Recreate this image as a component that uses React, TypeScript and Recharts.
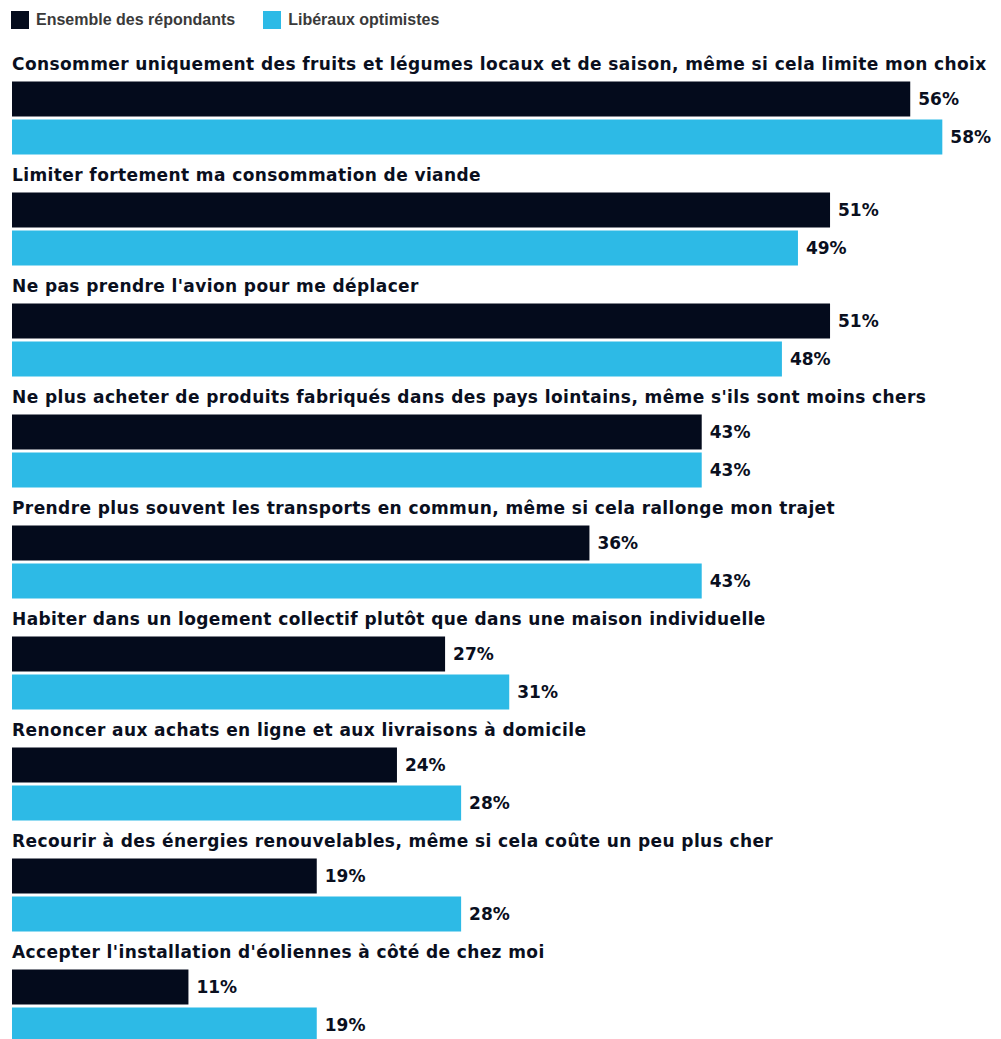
import React from "react";
import { BarChart, Bar, XAxis, YAxis, LabelList } from "recharts";

const categories = [
  "Consommer uniquement des fruits et légumes locaux et de saison, même si cela limite mon choix",
  "Limiter fortement ma consommation de viande",
  "Ne pas prendre l'avion pour me déplacer",
  "Ne plus acheter de produits fabriqués dans des pays lointains, même s'ils sont moins chers",
  "Prendre plus souvent les transports en commun, même si cela rallonge mon trajet",
  "Habiter dans un logement collectif plutôt que dans une maison individuelle",
  "Renoncer aux achats en ligne et aux livraisons à domicile",
  "Recourir à des énergies renouvelables, même si cela coûte un peu plus cher",
  "Accepter l'installation d'éoliennes à côté de chez moi",
];
const ensemble = [56, 51, 51, 43, 36, 27, 24, 19, 11];
const liberaux = [58, 49, 48, 43, 43, 31, 28, 28, 19];
const seriesNames = ["Ensemble des répondants", "Libéraux optimistes"];
const colors = ["#040b1c", "#2dbae6"];

const data = categories.map((c, i) => ({ name: c, a: ensemble[i], b: liberaux[i] }));

const TITLE_FONT = "'DejaVu Sans', sans-serif";
const TEXT_COLOR = "#0a0f1e";

const renderTitle = (props: any) => {
  const { x, y, value } = props;
  return (
    <text
      x={x}
      y={y - 11.5}
      textAnchor="start"
      fill={TEXT_COLOR}
      fontFamily={TITLE_FONT}
      fontWeight={700}
      fontSize={17}
      letterSpacing={0.4}
    >
      {value}
    </text>
  );
};

const fmt = (v: any) => `${v}%`;

export default function App() {
  return (
    <div style={{ position: "relative", width: 993 }}>
      <style>{`body{overflow:hidden}`}</style>
      <div
        style={{
          position: "absolute",
          top: 3,
          left: 3,
          display: "flex",
          alignItems: "center",
          fontFamily: "'Liberation Sans', Arial, sans-serif",
          fontWeight: 700,
          fontSize: 16,
          color: "#3a3a3a",
        }}
      >
        {seriesNames.map((n, i) => (
          <div key={n} style={{ display: "flex", alignItems: "center", marginRight: i === 0 ? 28 : 0 }}>
            <span style={{ width: 18, height: 18, background: colors[i], display: "inline-block", marginRight: 7 }} />
            <span>{n}</span>
          </div>
        ))}
      </div>
      <BarChart
        width={993}
        height={1060}
        data={data}
        layout="vertical"
        margin={{ top: 54.5, right: 26.6, bottom: 6.5, left: 4 }}
        barSize={35}
        barGap={3}
        style={{ overflow: "visible" }}
      >
        <XAxis type="number" domain={[0, 60]} hide />
        <YAxis type="category" dataKey="name" hide />
        <Bar dataKey="a" fill={colors[0]} isAnimationActive={false}>
          <LabelList dataKey="name" content={renderTitle} />
          <LabelList
            dataKey="a"
            position="right"
            offset={8}
            formatter={fmt}
            fill={TEXT_COLOR}
            fontFamily="'DejaVu Sans', sans-serif"
            fontWeight={700}
            fontSize={17}
          />
        </Bar>
        <Bar dataKey="b" fill={colors[1]} isAnimationActive={false}>
          <LabelList
            dataKey="b"
            position="right"
            offset={8}
            formatter={fmt}
            fill={TEXT_COLOR}
            fontFamily="'DejaVu Sans', sans-serif"
            fontWeight={700}
            fontSize={17}
          />
        </Bar>
      </BarChart>
    </div>
  );
}
